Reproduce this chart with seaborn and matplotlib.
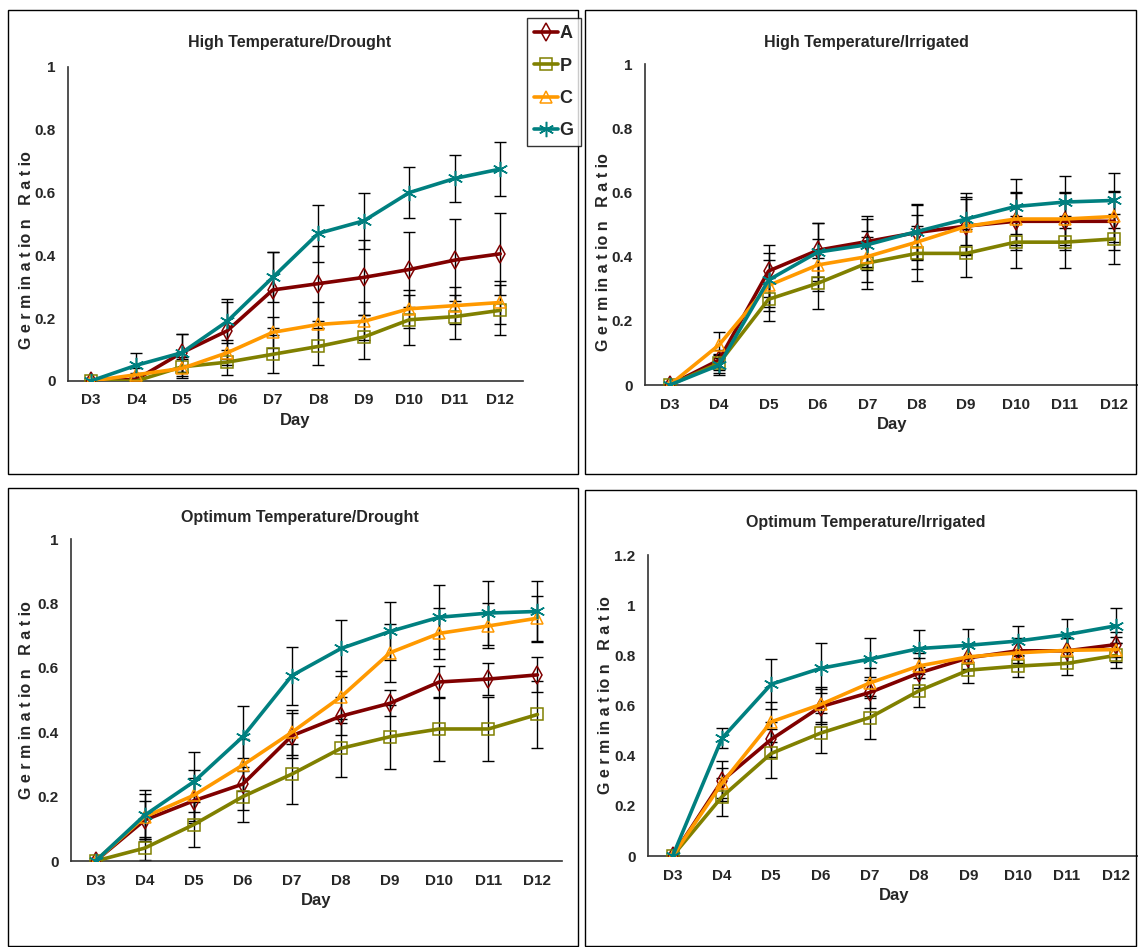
import matplotlib
matplotlib.use("Agg")
import matplotlib.pyplot as plt
from matplotlib.lines import Line2D
from matplotlib.patches import Rectangle
import numpy as np
import pandas as pd
import seaborn as sns

DAYS = ["D3", "D4", "D5", "D6", "D7", "D8", "D9", "D10", "D11", "D12"]
SERIES = ["A", "P", "C", "G"]

# High Temperature/Drought
htd_A = [0, 0.005, 0.09, 0.16, 0.29, 0.31, 0.33, 0.355, 0.385, 0.405]
htd_P = [0, 0, 0.045, 0.06, 0.085, 0.11, 0.14, 0.195, 0.205, 0.225]
htd_C = [0, 0.02, 0.04, 0.09, 0.155, 0.18, 0.19, 0.23, 0.24, 0.25]
htd_G = [0, 0.05, 0.09, 0.19, 0.33, 0.47, 0.51, 0.60, 0.645, 0.675]
htd_A_err = [0, 0.02, 0.06, 0.09, 0.12, 0.12, 0.12, 0.12, 0.13, 0.13]
htd_P_err = [0, 0.01, 0.03, 0.04, 0.06, 0.06, 0.07, 0.08, 0.07, 0.08]
htd_C_err = [0, 0.02, 0.03, 0.04, 0.05, 0.07, 0.06, 0.06, 0.06, 0.07]
htd_G_err = [0, 0.04, 0.06, 0.07, 0.08, 0.09, 0.09, 0.08, 0.075, 0.085]

# High Temperature/Irrigated
hti_A = [0, 0.078, 0.355, 0.42, 0.447, 0.475, 0.495, 0.51, 0.51, 0.51]
hti_P = [0, 0.068, 0.267, 0.317, 0.38, 0.41, 0.41, 0.445, 0.445, 0.455]
hti_C = [0, 0.125, 0.31, 0.374, 0.40, 0.445, 0.494, 0.517, 0.517, 0.525]
hti_G = [0, 0.062, 0.327, 0.414, 0.437, 0.478, 0.517, 0.556, 0.57, 0.575]
hti_A_err = [0, 0.03, 0.08, 0.085, 0.08, 0.085, 0.09, 0.09, 0.09, 0.09]
hti_P_err = [0, 0.03, 0.067, 0.08, 0.08, 0.085, 0.075, 0.08, 0.08, 0.077]
hti_C_err = [0, 0.04, 0.08, 0.08, 0.08, 0.085, 0.085, 0.08, 0.08, 0.08]
hti_G_err = [0, 0.03, 0.085, 0.09, 0.08, 0.085, 0.08, 0.085, 0.08, 0.085]

# Optimum Temperature/Drought
otd_A = [0, 0.127, 0.187, 0.239, 0.389, 0.45, 0.49, 0.556, 0.565, 0.578]
otd_P = [0, 0.04, 0.113, 0.20, 0.27, 0.35, 0.386, 0.41, 0.41, 0.455]
otd_C = [0, 0.137, 0.204, 0.298, 0.40, 0.51, 0.647, 0.707, 0.73, 0.754]
otd_G = [0, 0.142, 0.246, 0.386, 0.576, 0.66, 0.713, 0.757, 0.77, 0.775]
otd_A_err = [0, 0.06, 0.07, 0.08, 0.07, 0.06, 0.04, 0.05, 0.05, 0.054]
otd_P_err = [0, 0.036, 0.07, 0.08, 0.094, 0.09, 0.1, 0.1, 0.1, 0.105]
otd_C_err = [0, 0.07, 0.08, 0.08, 0.07, 0.08, 0.09, 0.08, 0.07, 0.07]
otd_G_err = [0, 0.08, 0.094, 0.094, 0.09, 0.087, 0.09, 0.1, 0.1, 0.095]

# Optimum Temperature/Irrigated
oti_A = [0, 0.30, 0.465, 0.595, 0.652, 0.73, 0.79, 0.818, 0.818, 0.843]
oti_P = [0, 0.236, 0.409, 0.49, 0.552, 0.659, 0.741, 0.757, 0.768, 0.80]
oti_C = [0, 0.29, 0.535, 0.604, 0.69, 0.758, 0.794, 0.81, 0.82, 0.823]
oti_G = [0, 0.469, 0.685, 0.748, 0.785, 0.827, 0.84, 0.857, 0.883, 0.918]
oti_A_err = [0, 0.08, 0.07, 0.07, 0.06, 0.06, 0.05, 0.05, 0.05, 0.05]
oti_P_err = [0, 0.076, 0.097, 0.08, 0.087, 0.065, 0.05, 0.045, 0.045, 0.05]
oti_C_err = [0, 0.06, 0.08, 0.07, 0.06, 0.05, 0.05, 0.05, 0.05, 0.05]
oti_G_err = [0, 0.04, 0.1, 0.1, 0.085, 0.075, 0.065, 0.06, 0.06, 0.07]

COLORS = {"A": "#800000", "P": "#808000", "C": "#FF9900", "G": "#008080"}
MARKERS = {"A": "d", "P": "s", "C": "^", "G": (6, 2, 0)}
MSIZE = {"A": 9, "P": 8, "C": 9, "G": 11}

W, H = 1138, 947


def _frac(left, top, right, bottom):
    return [left / W, 1 - bottom / H, (right - left) / W, (bottom - top) / H]


def draw_panel(fig, rect, title, values, errors, ymax, title_xy, ylabel_xy):
    ax = fig.add_axes(_frac(*rect))
    x = np.arange(len(DAYS))
    df = pd.DataFrame({"x": np.tile(x, 4),
                       "y": np.concatenate([values[s] for s in SERIES]),
                       "series": np.repeat(SERIES, len(DAYS))})
    for s in SERIES:
        ax.errorbar(x, values[s], yerr=errors[s], fmt="none", ecolor="black",
                    elinewidth=1.0, capsize=4, capthick=1.0, zorder=1)
    for s in SERIES:
        sub = df[df["series"] == s]
        sns.lineplot(data=sub, x="x", y="y", color=COLORS[s], linewidth=2.6,
                     marker=MARKERS[s], markersize=MSIZE[s], markerfacecolor="none",
                     markeredgecolor=COLORS[s], markeredgewidth=1.1, ax=ax, zorder=3)
    ax.set_xlim(-0.5, len(DAYS) - 0.5)
    ax.set_ylim(0, ymax)
    yt = np.round(np.arange(0, ymax + 0.01, 0.2), 1)
    ax.set_yticks(yt)
    ax.set_yticklabels([("%g" % v) for v in yt], fontweight="bold", fontsize=11)
    ax.set_xticks(np.arange(-0.5, len(DAYS) - 0.4, 1.0))
    ax.set_xticklabels([])
    ax.set_xticks(x, minor=True)
    ax.set_xticklabels(DAYS, minor=True, fontweight="bold", fontsize=11)
    ax.tick_params(axis="x", which="minor", length=0, pad=9)
    ax.tick_params(axis="x", which="major", length=7, direction="out", width=1, color="#333333")
    ax.tick_params(axis="y", length=5, direction="out", width=1, color="#333333", pad=4)
    ax.set_xlabel("Day", fontweight="bold", fontsize=12, labelpad=4)
    ax.set_ylabel("")
    for sp in ("top", "right"):
        ax.spines[sp].set_visible(False)
    for sp in ("left", "bottom"):
        ax.spines[sp].set_color("#333333")
        ax.spines[sp].set_linewidth(1.2)
    ax.grid(False)
    fig.text(title_xy[0] / W, 1 - title_xy[1] / H, title, ha="center", va="center",
             fontweight="bold", fontsize=11.5)
    fig.text(ylabel_xy[0] / W, 1 - ylabel_xy[1] / H, "G e r m in a t io n   R a t io",
             rotation=90, ha="center", va="center", fontweight="bold", fontsize=11.5)
    return ax


sns.set_theme(style="white")
plt.rcParams["font.family"] = ["Liberation Sans", "DejaVu Sans"]

fig = plt.figure(figsize=(W / 100, H / 100), dpi=100)

for (l, t, r, b) in [(8, 10, 578, 474), (585, 10, 1136, 474), (8, 488, 578, 946), (585, 490, 1136, 946)]:
    fig.patches.append(Rectangle((l / W, 1 - b / H), (r - l) / W, (b - t) / H,
                                 transform=fig.transFigure, fill=False,
                                 edgecolor="black", linewidth=1.0))

draw_panel(fig, (68, 67, 523, 381), "High Temperature/Drought",
           {"A": htd_A, "P": htd_P, "C": htd_C, "G": htd_G},
           {"A": htd_A_err, "P": htd_P_err, "C": htd_C_err, "G": htd_G_err},
           1.0, (290, 42), (27, 250))
draw_panel(fig, (645, 64, 1139, 385), "High Temperature/Irrigated",
           {"A": hti_A, "P": hti_P, "C": hti_C, "G": hti_G},
           {"A": hti_A_err, "P": hti_P_err, "C": hti_C_err, "G": hti_G_err},
           1.0, (866, 42), (604, 252))
draw_panel(fig, (71, 539, 562, 861), "Optimum Temperature/Drought",
           {"A": otd_A, "P": otd_P, "C": otd_C, "G": otd_G},
           {"A": otd_A_err, "P": otd_P_err, "C": otd_C_err, "G": otd_G_err},
           1.0, (300, 517), (27, 700))
draw_panel(fig, (648, 555, 1141, 856), "Optimum Temperature/Irrigated",
           {"A": oti_A, "P": oti_P, "C": oti_C, "G": oti_G},
           {"A": oti_A_err, "P": oti_P_err, "C": oti_C_err, "G": oti_G_err},
           1.2, (866, 522), (606, 695))

handles = [Line2D([], [], color=COLORS[s], linewidth=2.6, marker=MARKERS[s],
                  markersize=MSIZE[s], markerfacecolor="none", markeredgecolor=COLORS[s],
                  markeredgewidth=1.1) for s in SERIES]
leg = fig.legend(handles, SERIES, loc="upper left",
                 bbox_to_anchor=(527 / W, 1 - 18 / H), frameon=True, fancybox=False,
                 handlelength=1.3, handletextpad=0.1, labelspacing=0.85,
                 borderpad=0.4, borderaxespad=0,
                 prop={"weight": "bold", "size": 13})
leg.get_frame().set_edgecolor("black")
leg.get_frame().set_linewidth(1.0)

fig.savefig("out.png", dpi=100)
